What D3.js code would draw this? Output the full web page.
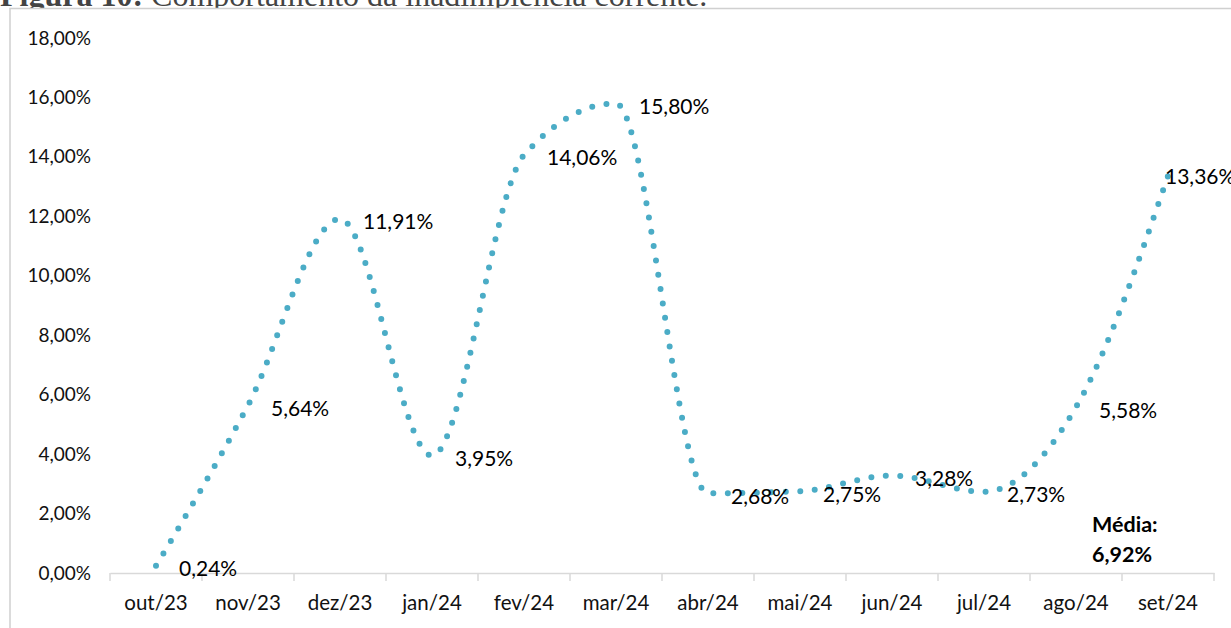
<!DOCTYPE html>
<html>
<head>
<meta charset="utf-8">
<script src="https://cdn.jsdelivr.net/npm/d3@7"></script>
<style>
  body { margin: 0; background: #fff; }
  text { font-family: Lato, "Open Sans", sans-serif; }
</style>
</head>
<body>
<div id="chart"></div>
<script>
var width = 1231;
var height = 628;

var months = ["out/23", "nov/23", "dez/23", "jan/24", "fev/24", "mar/24",
              "abr/24", "mai/24", "jun/24", "jul/24", "ago/24", "set/24"];
var rates = [0.24, 5.64, 11.91, 3.95, 14.06, 15.80, 2.68, 2.75, 3.28, 2.73, 5.58, 13.36];
var yTicks = [0, 2, 4, 6, 8, 10, 12, 14, 16, 18];
var mediaLabel = ["Média:", "6,92%"];

var fmt = function(d){ return d3.format(".2f")(d).replace(".", ",") + "%"; };

var svg = d3.select("#chart")
    .append("svg")
    .attr("width", width)
    .attr("height", height);

// title (cut off at the top, as in the source)
var title = svg.append("text")
    .attr("x", 0)
    .attr("y", 6)
    .style("font-family", "'Liberation Serif', 'Times New Roman', serif")
    .style("font-size", "32px")
    .attr("fill", "#444");
title.append("tspan").attr("font-weight", "bold").text("Figura 10:");
title.append("tspan").text(" Comportamento da inadimplência corrente.");

// chart border
svg.append("rect")
    .attr("x", 10)
    .attr("y", 8.5)
    .attr("width", 1240)
    .attr("height", 640)
    .attr("fill", "#fff")
    .attr("stroke", "#d0d0d0")
    .attr("stroke-width", 1.5);

var x = d3.scaleBand().domain(months).range([110, 1214]);
var y = d3.scaleLinear().domain([0, 18]).range([573, 38]);

// y axis labels
var yAxis = svg.append("g")
    .attr("transform", "translate(91,0)")
    .call(d3.axisLeft(y).tickValues(yTicks).tickFormat(fmt).tickSize(0).tickPadding(0));
yAxis.select(".domain").remove();
yAxis.selectAll("text")
    .style("font-family", "Lato, 'Open Sans', sans-serif")
    .style("font-size", "19px")
    .attr("fill", "#111");

// x axis
var xAxis = svg.append("g")
    .attr("transform", "translate(0,573)")
    .call(d3.axisBottom(x).tickSize(0).tickPadding(22));
xAxis.select(".domain")
    .attr("stroke", "#d9d9d9")
    .attr("stroke-width", 1.5);
xAxis.selectAll("text")
    .style("font-family", "Lato, 'Open Sans', sans-serif")
    .style("font-size", "20.5px")
    .attr("fill", "#111");

var bounds = months.map(function(m){ return x(m); }).concat([x.range()[1]]);
xAxis.selectAll(".tick-mark")
    .data(bounds)
    .enter().append("line")
    .attr("class", "tick-mark")
    .attr("x1", function(d){ return d; })
    .attr("x2", function(d){ return d; })
    .attr("y1", 0)
    .attr("y2", 8)
    .attr("stroke", "#d9d9d9")
    .attr("stroke-width", 1.5);

// smoothed dotted line
var line = d3.line()
    .x(function(d, i){ return x(months[i]) + x.bandwidth() / 2; })
    .y(function(d){ return y(d); })
    .curve(d3.curveMonotoneX);

svg.append("path")
    .datum(rates)
    .attr("d", line)
    .attr("fill", "none")
    .attr("stroke", "#4bacc6")
    .attr("stroke-width", 6)
    .attr("stroke-linecap", "round")
    .attr("stroke-dasharray", "0 14.5");

// data labels, to the right of each point (last one nudged left)
svg.selectAll(".data-label")
    .data(rates)
    .enter().append("text")
    .attr("class", "data-label")
    .attr("x", function(d, i){
        var cx = x(months[i]) + x.bandwidth() / 2;
        return i === rates.length - 1 ? cx - 3 : cx + 23;
    })
    .attr("y", function(d, i){
        return i === rates.length - 1 ? y(d) + 1 : y(d) + 3;
    })
    .attr("dy", "0.35em")
    .style("font-size", "21px")
    .attr("fill", "#000")
    .text(fmt);

// average note
svg.selectAll(".media")
    .data(mediaLabel)
    .enter().append("text")
    .attr("class", "media")
    .attr("x", 1092)
    .attr("y", function(d, i){ return 532 + i * 30; })
    .style("font-size", "21.5px")
    .attr("font-weight", "bold")
    .attr("fill", "#000")
    .text(function(d){ return d; });
</script>
</body>
</html>
